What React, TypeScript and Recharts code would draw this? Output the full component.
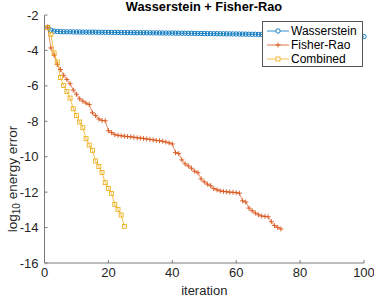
import { LineChart, Line, XAxis, YAxis, Label } from 'recharts';

// log10 energy error per iteration (iteration = index + 1)
const wasserstein = [
  -2.70, -2.86, -2.91, -2.93, -2.94, -2.945, -2.95, -2.95, -2.955, -2.96,
  -2.96, -2.965, -2.965, -2.97, -2.97, -2.97, -2.975, -2.975, -2.98, -2.98,
  -2.98, -2.985, -2.985, -2.99, -2.99, -2.99, -2.995, -2.995, -3.0, -3.0,
  -3.0, -3.005, -3.005, -3.01, -3.01, -3.015, -3.015, -3.02, -3.02, -3.02,
  -3.025, -3.025, -3.03, -3.03, -3.035, -3.035, -3.04, -3.04, -3.045, -3.045,
  -3.05, -3.05, -3.055, -3.055, -3.06, -3.06, -3.065, -3.065, -3.07, -3.07,
  -3.075, -3.08, -3.08, -3.085, -3.09, -3.09, -3.095, -3.1, -3.1, -3.105,
  -3.11, -3.11, -3.115, -3.12, -3.12, -3.125, -3.13, -3.13, -3.135, -3.14,
  -3.14, -3.145, -3.15, -3.15, -3.155, -3.16, -3.165, -3.165, -3.17, -3.175,
  -3.18, -3.18, -3.185, -3.19, -3.195, -3.2, -3.205, -3.21, -3.215, -3.22,
];

const fisherRao = [
  -2.68, -3.86, -4.27, -4.8, -5.08, -5.4, -5.64, -5.88, -6.24, -6.47,
  -6.73, -6.86, -6.97, -7.05, -7.52, -7.68, -7.87, -7.95, -7.97, -8.53,
  -8.64, -8.75, -8.79, -8.82, -8.84, -8.86, -8.88, -8.9, -8.93, -8.95,
  -8.97, -9.0, -9.02, -9.05, -9.08, -9.1, -9.13, -9.17, -9.22, -9.28,
  -9.77, -9.82, -10.18, -10.4, -10.52, -10.65, -10.82, -10.9, -11.25, -11.42,
  -11.55, -11.64, -11.8, -11.87, -11.93, -11.96, -11.98, -12.0, -12.01, -12.03,
  -12.06, -12.49, -12.56, -12.9, -13.05, -13.18, -13.28, -13.35, -13.37, -13.39,
  -13.67, -13.89, -13.99, -14.08,
];

const combined = [
  -2.71, -3.09, -4.14, -4.66, -5.53, -5.98, -6.32, -6.69, -7.29, -7.68,
  -8.04, -8.36, -8.98, -9.34, -9.64, -10.24, -10.55, -10.89, -11.46, -11.79,
  -12.08, -12.69, -12.98, -13.29, -13.93,
];

const xTicks = [0, 20, 40, 60, 80, 100];
const yTicks = [-16, -14, -12, -10, -8, -6, -4, -2];

const BLUE = '#0072BD';
const ORANGE = '#D95319';
const YELLOW = '#EDB120';
const TEXT = '#262626';
const FONT = '"Liberation Sans", Arial, Helvetica, sans-serif';

const toRows = (vals: number[]) => vals.map((v, i) => ({ it: i + 1, v }));

const Circle = (p: any) => (
  <circle key={p.index} cx={p.cx} cy={p.cy} r={2.2} fill="none" stroke={BLUE} strokeWidth={0.9} />
);
const Plus = (p: any) => (
  <path key={p.index} d={`M${p.cx - 2.5},${p.cy}H${p.cx + 2.5}M${p.cx},${p.cy - 2.5}V${p.cy + 2.5}`} stroke={ORANGE} strokeWidth={0.9} />
);
const Square = (p: any) => (
  <rect key={p.index} x={p.cx - 2} y={p.cy - 2} width={4} height={4} fill="none" stroke={YELLOW} strokeWidth={0.9} />
);

const YTitle = (props: any) => {
  const vb = props.viewBox;
  const cx = vb.x + 12;
  const cy = vb.y + vb.height / 2 + 40;
  return (
    <text x={cx} y={cy} transform={`rotate(-90, ${cx}, ${cy})`} textAnchor="middle" dominantBaseline="central"
      fontSize={13.5} fill={TEXT} fontFamily={FONT}>
      log<tspan fontSize={10} dy={4}>10</tspan><tspan dy={-4}> energy error</tspan>
    </text>
  );
};

const XTitle = (props: any) => {
  const vb = props.viewBox;
  return (
    <text x={vb.x + vb.width / 2} y={vb.y + 27.5} textAnchor="middle" dominantBaseline="central"
      fontSize={13} fill={TEXT} fontFamily={FONT}>
      iteration
    </text>
  );
};

const legendItems = [
  { name: 'Wasserstein', color: BLUE, mark: 'o' },
  { name: 'Fisher-Rao', color: ORANGE, mark: '+' },
  { name: 'Combined', color: YELLOW, mark: 's' },
];

export default function App() {
  return (
    <div style={{ position: 'absolute', left: 0, top: 0, width: 374, height: 298, background: '#fff', fontFamily: FONT }}>
      <div style={{ position: 'absolute', left: 44, width: 320, top: 0, textAlign: 'center', fontWeight: 'bold', fontSize: 12.8, lineHeight: '13px', color: '#000' }}>
        Wasserstein + Fisher-Rao
      </div>
      <LineChart width={374} height={298} margin={{ top: 15, right: 10, bottom: 0, left: 0 }}>
        <XAxis
          dataKey="it"
          type="number"
          domain={[0, 100]}
          ticks={xTicks}
          interval={0}
          allowDuplicatedCategory={false}
          height={35}
          tickSize={-3}
          tickMargin={8}
          stroke="#7a7a7a"
          tick={{ fontSize: 13, fill: TEXT, fontFamily: FONT }}
        >
          <Label content={XTitle} />
        </XAxis>
        <YAxis
          type="number"
          domain={[-16, -2]}
          ticks={yTicks}
          interval={0}
          width={44.5}
          tickSize={-3}
          tickMargin={9}
          stroke="#7a7a7a"
          tick={{ fontSize: 13, fill: TEXT, fontFamily: FONT }}
        >
          <Label content={YTitle} />
        </YAxis>
        <Line data={toRows(wasserstein)} dataKey="v" stroke={BLUE} strokeWidth={0.8} dot={Circle} activeDot={false} isAnimationActive={false} />
        <Line data={toRows(fisherRao)} dataKey="v" stroke={ORANGE} strokeWidth={0.8} strokeOpacity={0.8} dot={Plus} activeDot={false} isAnimationActive={false} />
        <Line data={toRows(combined)} dataKey="v" stroke={YELLOW} strokeWidth={0.8} dot={Square} activeDot={false} isAnimationActive={false} />
      </LineChart>
      <div style={{ position: 'absolute', left: 262, top: 21, width: 99, height: 44, border: '1px solid #555', background: '#fff' }}>
        {legendItems.map((d, i) => (
          <div key={d.name} style={{ position: 'absolute', left: 0, top: 2 + i * 14, height: 14, display: 'flex', alignItems: 'center' }}>
            <svg width={28} height={14}>
              <line x1={4} x2={26} y1={7} y2={7} stroke={d.color} strokeWidth={0.8} />
              {d.mark === 'o' && <circle cx={15} cy={7} r={2.2} fill="#fff" stroke={d.color} strokeWidth={0.9} />}
              {d.mark === '+' && <path d="M12.5,7H17.5M15,4.5V9.5" stroke={d.color} strokeWidth={0.9} />}
              {d.mark === 's' && <rect x={13} y={5} width={4} height={4} fill="#fff" stroke={d.color} strokeWidth={0.9} />}
            </svg>
            <span style={{ fontSize: 12, color: '#000', marginLeft: 0 }}>{d.name}</span>
          </div>
        ))}
      </div>
    </div>
  );
}
